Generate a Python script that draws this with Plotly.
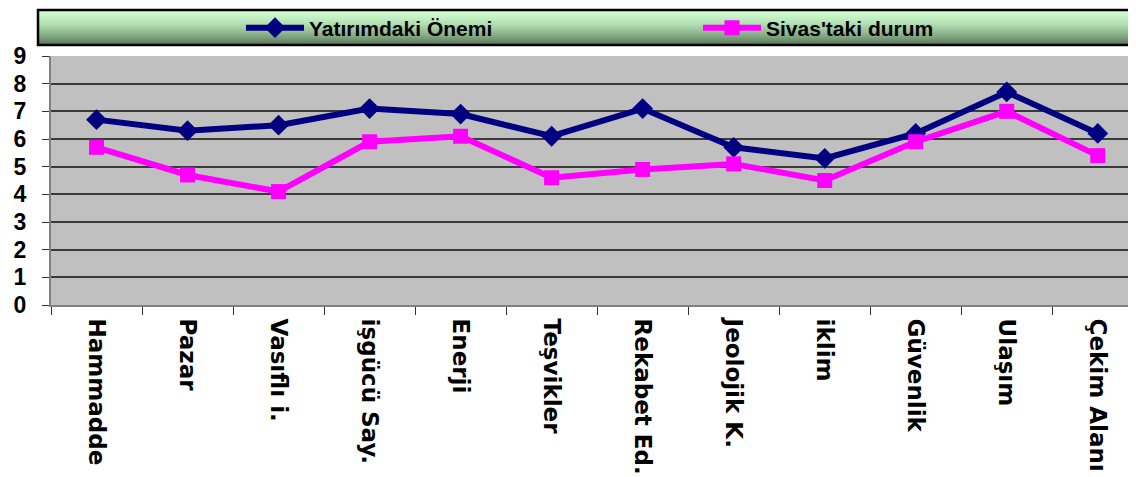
import plotly.graph_objects as go

categories = ["Hammadde", "Pazar", "Vasıflı i.", "işgücü Say.", "Enerji", "Teşvikler",
              "Rekabet Ed.", "Jeolojik K.", "iklim", "Güvenlik", "Ulaşım", "Çekim Alanı"]
yatirim_onemi = [6.7, 6.3, 6.5, 7.1, 6.9, 6.1, 7.1, 5.7, 5.3, 6.2, 7.7, 6.2]
sivas_durum = [5.7, 4.7, 4.1, 5.9, 6.1, 4.6, 4.9, 5.1, 4.5, 5.9, 7.0, 5.4]
y_ticks = list(range(0, 10))

# page body has an 8px margin, so work in screen pixels and subtract it
OFF = 8
W, H = 1136 - OFF, 477 - OFF
L, T = 51 - OFF, 56 - OFF
PLOT_BOTTOM = 305 - OFF
B = H - PLOT_BOTTOM
pw, ph = W - L, PLOT_BOTTOM - T

def px_x(x):
    return (x - OFF - L) / pw

def px_y(y):
    return (PLOT_BOTTOM - (y - OFF)) / ph

fig = go.Figure()
fig.add_trace(go.Scatter(x=categories, y=yatirim_onemi, name="Yatırımdaki Önemi",
                         mode="lines+markers", legend="legend",
                         line=dict(color="#000080", width=6),
                         marker=dict(symbol="diamond", size=16, color="#000080")))
fig.add_trace(go.Scatter(x=categories, y=sivas_durum, name="Sivas'taki durum",
                         mode="lines+markers", legend="legend2",
                         line=dict(color="#FF00FF", width=6),
                         marker=dict(symbol="square", size=15, color="#FF00FF")))

# green gradient legend box
shapes = []
top, bot = 10, 45
n = bot - top
for i in range(n):
    t = i / (n - 1)
    t2 = t ** 1.6
    r = int(205 + (88 - 205) * t2)
    g = int(252 + (118 - 252) * t2)
    b = int(205 + (88 - 205) * t2)
    shapes.append(dict(type="rect", xref="paper", yref="paper", layer="above",
                       x0=px_x(38), x1=px_x(1140), y0=px_y(top + i + 1), y1=px_y(top + i),
                       fillcolor="rgb(%d,%d,%d)" % (r, g, b), line=dict(width=0)))
shapes.append(dict(type="rect", xref="paper", yref="paper", layer="above",
                   x0=px_x(38), x1=px_x(1140), y0=px_y(bot), y1=px_y(top),
                   fillcolor="rgba(0,0,0,0)", line=dict(color="black", width=2.5)))

legend_font = dict(family="Liberation Sans, Arial", size=21, color="black", weight="bold")
leg_y = 1 - (28 - OFF) / H
fig.update_layout(
    width=W, height=H,
    margin=dict(l=L, r=0, t=T, b=B, autoexpand=False),
    paper_bgcolor="white", plot_bgcolor="#C0C0C0",
    shapes=shapes,
    legend=dict(xref="container", yref="container", x=(241 - OFF) / W, y=leg_y,
                xanchor="left", yanchor="middle", orientation="h", itemwidth=58,
                bgcolor="rgba(0,0,0,0)", font=legend_font),
    legend2=dict(xref="container", yref="container", x=(698 - OFF) / W, y=leg_y,
                 xanchor="left", yanchor="middle", orientation="h", itemwidth=58,
                 bgcolor="rgba(0,0,0,0)", font=legend_font),
    xaxis=dict(type="category", range=[-0.5, 11.42], tickson="boundaries", automargin=False,
               ticks="outside", ticklen=8, tickcolor="#333", tickwidth=1,
               tickangle=90, ticklabelstandoff=7,
               showgrid=False, showline=True, linecolor="#808080", linewidth=2,
               tickfont=dict(family="DejaVu Sans", size=23, color="black", weight="bold")),
    yaxis=dict(range=[0, 9], tickvals=y_ticks, ticks="outside", ticklen=7, automargin=False,
               ticklabelstandoff=11,
               tickcolor="#333", showgrid=True, gridcolor="#3a3a3a", gridwidth=1.5,
               zeroline=False, showline=True, linecolor="#808080", linewidth=2,
               tickfont=dict(family="Liberation Sans, Arial", size=23, color="black", weight="bold")),
    font=dict(family="Liberation Sans, Arial"),
    showlegend=True,
)

fig.write_html("out.html")
